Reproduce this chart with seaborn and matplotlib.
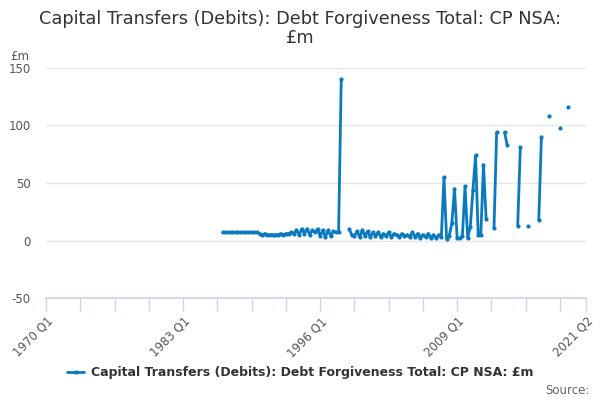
import matplotlib
matplotlib.use("Agg")
import matplotlib.pyplot as plt
import numpy as np
import pandas as pd
import seaborn as sns
from matplotlib.lines import Line2D

sns.set_theme(style="white")
plt.rcParams["font.family"] = ["DejaVu Sans"]
plt.rcParams["axes.unicode_minus"] = False

TITLE = "Capital Transfers (Debits): Debt Forgiveness Total: CP NSA:\n£m"
SERIES = "Capital Transfers (Debits): Debt Forgiveness Total: CP NSA: £m"
LINE_COLOR = "#0a7abf"

# quarter index 0 = 1970 Q1, last = 2021 Q2
start_q = 67  # 1986 Q4
values = [
    # 1986 Q4 - 1998 Q1
    7, 7, 7, 7, 7, 7, 7, 7, 7, 7, 7, 7, 7, 7,
    6, 5, 6, 5, 5, 5, 5, 5, 6, 5, 6, 6,
    7, 6, 9, 5, 10, 6, 10, 5, 9, 7, 10, 4, 9, 3, 9, 4, 8, 7, 7,
    140,
    None, None,
    # 1998 Q4 - 2007 Q3
    10, 5, 4, 8, 3, 9, 4, 8, 3, 7, 4, 7, 3, 6, 4, 7, 3, 6, 5, 3,
    6, 4, 5, 3, 7, 3, 6, 2, 5, 3, 6, 2, 5, 2, 5, 3,
    # 2007 Q4 - 2011 Q4
    55, 1.5, 4, 15, 45, 2, 2, 4, 47, 2, 12, 44, 74, 5, 5, 66, 19,
    None, None,
    11, 94,
    None, None,
    94, 83,
    None, None, None,
    13, 81,
    None, None,
    13,
    None, None, None,
    18, 90,
    None, None,
    108,
    None, None, None,
    98,
    None, None,
    116,
]
last_q = 205
tick_pos = [0, 52, 104, 156, 205]
tick_labels = ["1970 Q1", "1983 Q1", "1996 Q1", "2009 Q1", "2021 Q2"]

q = np.arange(start_q, start_q + len(values))
v = pd.Series(values, dtype=float)
seg = v.isna().cumsum()
df = pd.DataFrame({"q": q, "value": v, "seg": seg}).dropna()

fig = plt.figure(figsize=(6, 4), dpi=100)
ax = fig.add_axes([0.077, 0.255, 0.9, 0.575])

sns.lineplot(data=df, x="q", y="value", units="seg", estimator=None,
             color=LINE_COLOR, linewidth=2, marker="o", markersize=3,
             markeredgewidth=0, ax=ax)

ax.set_xlim(0, last_q)
ax.set_ylim(-50, 150)
ax.set_yticks([-50, 0, 50, 100, 150])
ax.yaxis.grid(True, color="#e6e6e6", linewidth=1)
ax.tick_params(axis="y", length=0, labelsize=8.5, labelcolor="#555555", pad=11)

ax.set_xticks(tick_pos)
ax.set_xticks(list(range(0, 200, 13)) + [last_q], minor=True)
ax.tick_params(axis="x", which="both", bottom=True, length=9, color="#ccd6eb",
               width=1, direction="out")
ax.tick_params(axis="x", which="major", pad=3)
ax.set_xticklabels(tick_labels)
plt.setp(ax.get_xticklabels(), rotation=45, ha="right", rotation_mode="anchor",
         fontsize=8.5, color="#555555")

for side in ["left", "right", "top"]:
    ax.spines[side].set_visible(False)
ax.spines["bottom"].set_color("#ccd6eb")
ax.set_xlabel("")
ax.set_ylabel("")

fig.text(0.5, 0.975, TITLE, ha="center", va="top", fontsize=12.8, color="#333333",
         linespacing=1.1)
fig.text(0.017, 0.858, "£m", fontsize=8.5, color="#555555", va="center")

handle = Line2D([], [], color=LINE_COLOR, linewidth=2, marker="o", markersize=3,
                markeredgewidth=0)
fig.legend([handle], [SERIES], loc="center", bbox_to_anchor=(0.5, 0.068),
           frameon=False, handlelength=1.4, handletextpad=0.5,
           labelcolor="#333333", prop={"weight": "bold", "size": 9})
fig.text(0.983, 0.025, "Source:", ha="right", va="center", fontsize=8.5, color="#666666")

fig.savefig("out.png", dpi=100)
